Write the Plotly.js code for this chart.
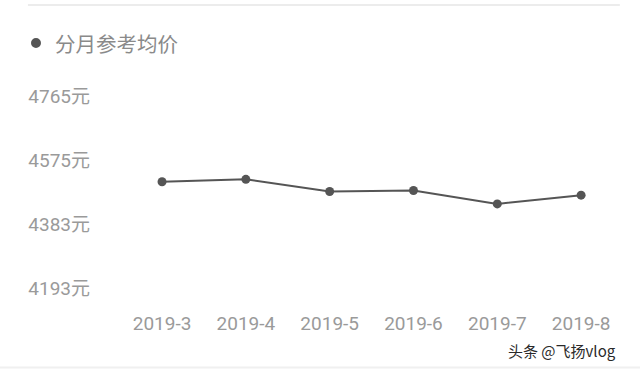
<!DOCTYPE html>
<html>
<head>
<meta charset="utf-8">
<script src="https://cdn.plot.ly/plotly-3.0.1.min.js"></script>
<style>html,body{margin:0;padding:0;background:#fff;}#chart{width:640px;height:369px;}</style>
</head>
<body>
<div id="chart"></div>
<script>
const months = ["2019-3", "2019-4", "2019-5", "2019-6", "2019-7", "2019-8"];
const prices = [4510, 4517, 4481, 4484, 4444, 4470];
const yTickVals = [4193, 4383, 4575, 4765];
const yTickText = ["4193元", "4383元", "4575元", "4765元"];
const seriesName = "分月参考均价";
const watermark = "头条 @飞扬vlog";

const trace = {
  x: months,
  y: prices,
  type: "scatter",
  mode: "lines+markers",
  name: seriesName,
  line: {color: "#555555", width: 2},
  marker: {color: "#555555", size: 9},
  hoverinfo: "x+y"
};

const layout = {
  width: 640, height: 369,
  margin: {l: 95, r: 17, t: 70, b: 59},
  paper_bgcolor: "#ffffff",
  plot_bgcolor: "#ffffff",
  showlegend: false,
  font: {family: "Roboto, 'Noto Sans CJK SC', sans-serif", color: "#999999"},
  xaxis: {
    type: "category",
    range: [-0.8, 5.5],
    showgrid: false, zeroline: false, showline: false, ticks: "",
    tickfont: {size: 19, color: "#9a9a9a"},
    fixedrange: true
  },
  yaxis: {
    range: [4128.3, 4842.4],
    tickvals: yTickVals,
    ticktext: yTickText,
    showgrid: false, zeroline: false, showline: false, ticks: "",
    tickfont: {size: 19, color: "#9a9a9a", family: "Roboto, 'Noto Sans CJK SC', sans-serif"},
    ticklabelstandoff: 4,
    fixedrange: true
  },
  shapes: [
    {type: "line", xref: "paper", yref: "paper", x0: -0.127, x1: 0.994, y0: 1.271, y1: 1.271,
     line: {color: "#ececec", width: 2}},
    {type: "line", xref: "paper", yref: "paper", x0: -0.18, x1: 1.04, y0: -0.24, y1: -0.24,
     line: {color: "#f0f0f0", width: 2}},
    {type: "circle", xref: "paper", yref: "paper", x0: -0.1212, x1: -0.1023, y0: 1.092, y1: 1.133,
     fillcolor: "#555555", line: {width: 0}}
  ],
  annotations: [
    {text: seriesName, xref: "paper", yref: "paper", x: -0.0795, y: 1.1125,
     xanchor: "left", yanchor: "middle", showarrow: false,
     font: {size: 20.5, color: "#8a8a8a", family: "'Noto Sans CJK SC', sans-serif"}},
    {text: watermark, xref: "paper", yref: "paper", x: 0.9905, y: -0.1667,
     xanchor: "right", yanchor: "middle", showarrow: false,
     font: {size: 15, color: "#2a2a2a", family: "'Noto Sans CJK SC', sans-serif"}}
  ]
};

Plotly.newPlot("chart", [trace], layout, {displayModeBar: false, staticPlot: true});
</script>
</body>
</html>
